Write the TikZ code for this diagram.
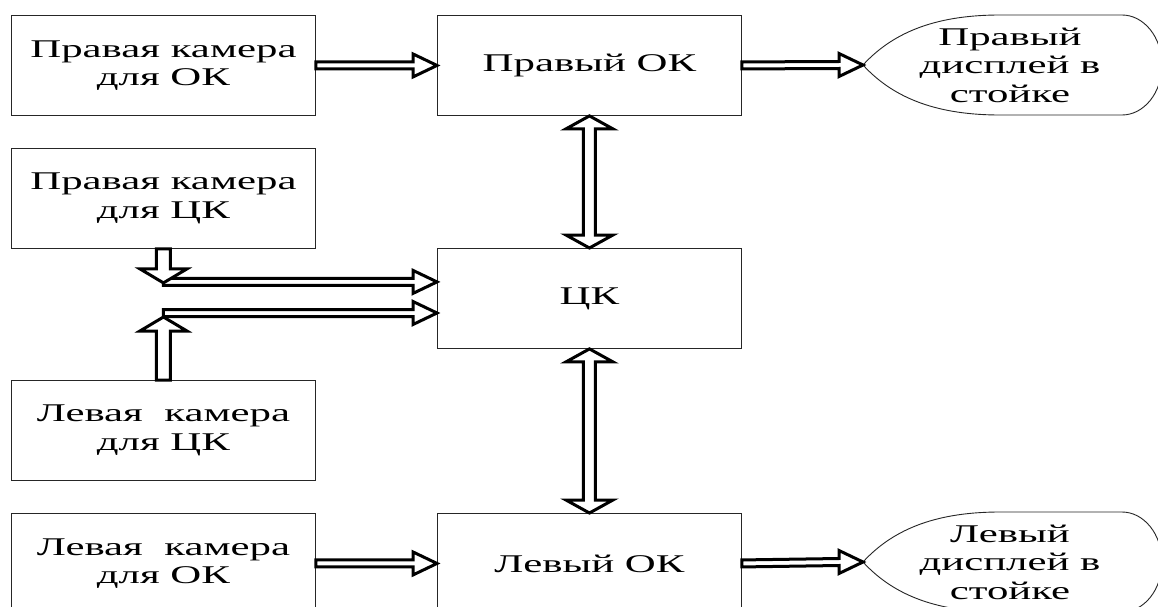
\documentclass[tikz,border=0pt]{standalone}
\usepackage{fontspec}
\setmainfont{Liberation Serif}[FakeStretch=1.68]
\usetikzlibrary{calc}
\newcommand\harr[2]{\draw[blk] ($(#1)+(0,-3.5)$) -- ($(#2)+(-24,-3.5)$) -- ($(#2)+(-24,-11.5)$) -- (#2) -- ($(#2)+(-24,11.5)$) -- ($(#2)+(-24,3.5)$) -- ($(#1)+(0,3.5)$) -- cycle;}
\newcommand\varr[3]{\draw[blk] ($(#1)+(-7,0)$) -- ($(#2)+(-7,{-14*#3})$) -- ($(#2)+(-23.5,{-14*#3})$) -- (#2) -- ($(#2)+(23.5,{-14*#3})$) -- ($(#2)+(7,{-14*#3})$) -- ($(#1)+(7,0)$) -- cycle;}
\newcommand\vdarr[2]{\draw[blk] (#1) -- ($(#1)+(23.5,13)$) -- ($(#1)+(6,13)$) -- ($(#2)+(6,-13)$) -- ($(#2)+(23.5,-13)$) -- (#2) -- ($(#2)+(-23.5,-13)$) -- ($(#2)+(-6,-13)$) -- ($(#1)+(-6,13)$) -- ($(#1)+(-23.5,13)$) -- cycle;}
\newcommand\dispshape[1]{\draw[outl] (#1) .. controls +(32,-35) and +(-60,0) .. ++(137,-50) -- ++(122,0) .. controls +(22,0) and +(0,-27.6) .. ++(40,50) .. controls +(0,27.6) and +(22,0) .. ++(-40,50) -- ++(-122,0) .. controls +(-60,0) and +(32,35) .. (#1) -- cycle;}
\begin{document}
\begin{tikzpicture}[x=1pt,y=-1pt,
  outl/.style={draw=black!85, line width=0.9pt},
  box/.style={outl, minimum width=304pt, minimum height=100pt, inner sep=0pt, align=center, anchor=north west, font=\fontsize{25.5}{28.5}\selectfont},
  lbl/.style={align=center, inner sep=0pt, font=\fontsize{25.5}{28.5}\selectfont},
  blk/.style={draw=black, line width=3pt, fill=white, line join=miter}]
\useasboundingbox (0,0) rectangle (1158,607);
\clip (0,0) rectangle (1158,607);
\fill[white] (0,0) rectangle (1158,607);
% boxes
\node[box] (b1) at (11,15) {Правая камера\\для ОК};
\node[box] (b2) at (11,148) {Правая камера\\для ЦК};
\node[box] (b3) at (11,380) {Левая~ камера\\для ЦК};
\node[box] (b4) at (11,513) {Левая~ камера\\для ОК};
\node[box] (c1) at (437,15) {Правый ОК};
\node[box] (c2) at (437,248) {ЦК};
\node[box] (c3) at (437,513) {Левый ОК};
% display shapes
\coordinate (d1) at (863,65);
\coordinate (d2) at (863,562);
\dispshape{d1}
\dispshape{d2}
\node[lbl] (e1) at (1010,65) {Правый\\дисплей в\\стойке};
\node[lbl] (e2) at (1010,562) {Левый\\дисплей в\\стойке};
% arrows
\harr{b1.east}{c1.west}
\harr{c1.east}{d1}
\harr{b4.east}{c3.west}
\harr{c3.east}{d2}
\vdarr{c1.south}{c2.north}
\vdarr{c2.south}{c3.north}
% merging arrows
\coordinate (m1) at ($(b2.south)+(0,33)$);
\coordinate (m2) at ($(b3.north)+(0,-67)$);
\coordinate (t1) at (c2.west |- m1);
\coordinate (t2) at (c2.west |- m2);
\harr{m1}{t1}
\harr{m2}{t2}
\coordinate (u1) at ($(m1)+(0,1)$);
\coordinate (u2) at ($(m2)+(0,4)$);
\varr{b2.south}{u1}{1}
\varr{b3.north}{u2}{-1}
\end{tikzpicture}
\end{document}
